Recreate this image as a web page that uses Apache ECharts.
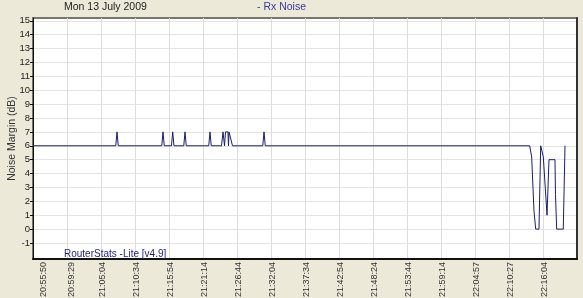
<!DOCTYPE html>
<html>
<head>
<meta charset="utf-8">
<script src="https://cdn.jsdelivr.net/npm/echarts@6/dist/echarts.min.js"></script>
<style>
html,body{margin:0;padding:0;background:#ECE9D8;}
#chart{width:583px;height:298px;}
</style>
</head>
<body>
<div id="chart"></div>
<script>
// Elapsed chart units (minutes, sample-indexed) and noise margin (dB)
const elapsed = [0,
  13.39,13.59,13.79,
  20.83,21.03,21.23,
  22.40,22.60,22.80,
  24.39,24.59,24.79,
  28.43,28.63,28.83,
  30.49,30.74,30.98,31.14,31.54,31.62,31.71,32.03,32.27,
  37.17,37.37,37.57,
  80.35,80.67,81.04,81.32,81.85,82.13,82.55,83.15,83.47,84.44,84.52,84.71,85.78,86.06];
const noiseMargin = [6,
  6,7,6,
  6,7,6,
  6,7,6,
  6,7,6,
  6,7,6,
  6,7,6,7,7,6,7,7,6,
  6,7,6,
  6,5.2,1.3,0,0,6,5.2,1,5,5,2.5,0,0,6];

const timeLabels = ['20:55:50','20:59:29','21:05:04','21:10:34','21:15:54','21:21:14','21:26:44',
  '21:32:04','21:37:34','21:42:54','21:48:24','21:53:44','21:59:14','22:04:57','22:10:27','22:16:04'];
const timeLabelAt = [1.75,6.2,11.2,16.7,22.2,27.7,33.2,38.7,44.2,49.7,55.2,60.7,66.2,71.7,77.2,82.7];
const yTicks = [-1,0,1,2,3,4,5,6,7,8,9,10,11,12,13,14,15];

const chartTitle = 'Mon 13 July 2009';
const seriesTitle = '- Rx Noise';
const footer = 'RouterStats -Lite [v4.9]';
const yName = 'Noise Margin (dB)';

const FONT = 'Liberation Sans';
const chart = echarts.init(document.getElementById('chart'));
chart.setOption({
  animation: false,
  backgroundColor: '#ECE9D8',
  textStyle: {fontFamily: FONT},
  title: [
    {text: chartTitle, left: 64, top: 2, padding: 0, textStyle: {fontSize: 10.5, fontWeight: 'normal', color: '#222', fontFamily: FONT}},
    {text: seriesTitle, left: 257, top: 2, padding: 0, textStyle: {fontSize: 10.5, fontWeight: 'normal', color: '#3838a8', fontFamily: FONT}},
    {text: footer, left: 64, top: 249, padding: 0, textStyle: {fontSize: 10, fontWeight: 'normal', color: '#20209a', fontFamily: FONT}}
  ],
  grid: {left: 33, right: 6, top: 18, bottom: 39, containLabel: false, outerBoundsMode: 'none',
    show: true, backgroundColor: '#ffffff', borderColor: '#77776c', borderWidth: 2},
  xAxis: {
    type: 'value', min: 0, max: 88, interval: 5.5,
    axisLine: {show: true, onZero: false, lineStyle: {color: '#111', width: 2}},
    axisTick: {show: false},
    splitLine: {show: true, lineStyle: {color: '#dddddd', width: 1}},
    axisLabel: {
      customValues: timeLabelAt,
      rotate: 90, fontSize: 9, color: '#333', margin: 3, fontFamily: FONT,
      formatter: function (v) {
        const i = timeLabelAt.findIndex(p => Math.abs(p - v) < 1e-6);
        return i >= 0 ? timeLabels[i] : '';
      }
    }
  },
  yAxis: [{
    type: 'value', min: -2.15, max: 15.2,
    name: yName, nameLocation: 'middle', nameGap: 15, nameRotate: 90, nameMoveOverlap: false,
    nameTextStyle: {fontSize: 10.5, color: '#333', fontFamily: FONT},
    axisLine: {show: true, onZero: false, lineStyle: {color: '#111', width: 1}},
    axisTick: {show: true, customValues: yTicks, length: 3, lineStyle: {color: '#111'}},
    splitLine: {show: true, lineStyle: {color: '#e4e4e4', width: 1}},
    axisLabel: {customValues: yTicks, fontSize: 9.5, color: '#222', margin: 3, fontFamily: FONT}
  }, {
    type: 'value', min: -2.15, max: 15.2, position: 'right',
    axisLine: {show: true, onZero: false, lineStyle: {color: '#333', width: 2}},
    axisTick: {show: false}, axisLabel: {show: false}, splitLine: {show: false}
  }],
  series: [{
    type: 'line',
    data: elapsed.map((x, i) => [x, noiseMargin[i]]),
    showSymbol: false,
    lineStyle: {color: '#1c1c78', width: 1},
    silent: true
  }]
});
</script>
</body>
</html>
